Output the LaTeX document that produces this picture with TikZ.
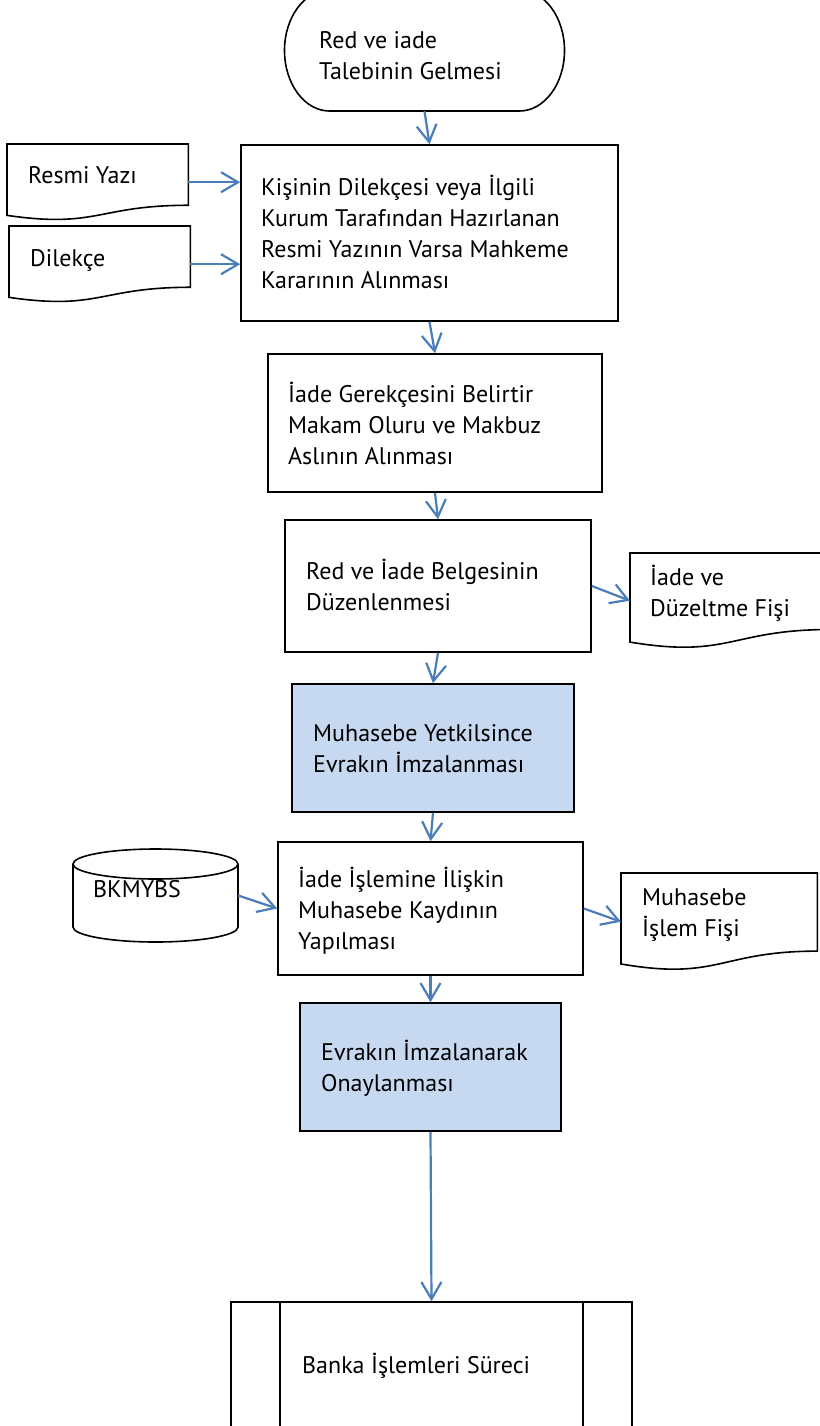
\documentclass[tikz,border=0pt]{standalone}
\usepackage{fontspec}
\setmainfont{PT Sans}
\usetikzlibrary{arrows.meta,calc}
\definecolor{lnblue}{HTML}{4A7EBB}
\definecolor{boxblue}{HTML}{C6D9F1}
\newcommand\mltext[1]{\vtop{\halign{##\hfil\cr#1\crcr}}}
\newcommand\mydoc[5]{%
  \node[ghost,minimum width=#4pt,minimum height=#5pt,anchor=north west] (#1) at (#2,#3) {};
  \draw[shp] (#1.north west) -- (#1.north east) -- ($(#1.north east)!0.802!(#1.south east)$)
    .. controls ($(#1.north)!0.802!(#1.south)$) and ($(#1.north)!1.1075!(#1.south)$)
    .. ($(#1.north west)!0.934!(#1.south west)$) -- cycle;
}
\begin{document}
\begin{tikzpicture}[x=1pt,y=-1pt,
  shp/.style={draw=black,line width=1.6pt},
  box/.style={shp,rectangle,inner sep=0pt},
  bluebox/.style={box,fill=boxblue},
  ghost/.style={rectangle,inner sep=0pt,draw=none},
  lbl/.style={anchor=base west,inner sep=0pt,font=\fontsize{24}{31}\selectfont},
  flow/.style={draw=lnblue,line width=2.2pt,-{Straight Barb[length=17pt,width=20pt]}}
]
\path[fill=white,use as bounding box] (0,0) rectangle (819,1426);

% start terminator
\node[ghost,minimum width=280pt,minimum height=121pt] (start) at (424.5,50.5) {};
\draw[shp] (329.5,-10) -- (519.5,-10)
  arc[start angle=-90,end angle=90,x radius=45,y radius=60.5] -- (329.5,111)
  arc[start angle=90,end angle=270,x radius=45,y radius=60.5] -- cycle;
\node[lbl] (tstart) at (319,49) {\mltext{Red ve iade\cr Talebinin Gelmesi}};

% process boxes
\node[box,minimum width=377pt,minimum height=176pt] (b1) at (429.5,233) {};
\node[lbl] (t1) at (261,195) {\mltext{Kişinin Dilekçesi veya İlgili\cr Kurum Tarafından Hazırlanan\cr Resmi Yazının Varsa Mahkeme\cr Kararının Alınması}};

\node[box,minimum width=334pt,minimum height=138pt] (b2) at (435,423) {};
\node[lbl] (t2) at (288,402) {\mltext{İade Gerekçesini Belirtir\cr Makam Oluru ve Makbuz\cr Aslının Alınması}};

\node[box,minimum width=306pt,minimum height=132pt] (b3) at (438,586) {};
\node[lbl] (t3) at (306,579) {\mltext{Red ve İade Belgesinin\cr Düzenlenmesi}};

\node[bluebox,minimum width=282pt,minimum height=128pt] (b4) at (433,748) {};
\node[lbl] (t4) at (313,741) {\mltext{Muhasebe Yetkilsince\cr Evrakın İmzalanması}};

\node[box,minimum width=305pt,minimum height=133pt] (b5) at (430.5,908.5) {};
\node[lbl] (t5) at (298,887) {\mltext{İade İşlemine İlişkin\cr Muhasebe Kaydının\cr Yapılması}};

\node[bluebox,minimum width=261pt,minimum height=128pt] (b6) at (430.5,1067) {};
\node[lbl] (t6) at (321,1060) {\mltext{Evrakın İmzalanarak\cr Onaylanması}};

% predefined process
\node[box,minimum width=401pt,minimum height=148pt] (banka) at (431.5,1376) {};
\draw[shp] ($(banka.north west)+(50,0)$) -- ($(banka.south west)+(50,0)$);
\draw[shp] ($(banka.north east)+(-50,0)$) -- ($(banka.south east)+(-50,0)$);
\node[lbl] (tbanka) at (302,1373) {Banka İşlemleri Süreci};

% documents
\mydoc{resmi}{7}{144}{181}{76}
\node[lbl] (tresmi) at (28,183) {Resmi Yazı};
\mydoc{dilekce}{9}{226}{181}{76}
\node[lbl] (tdilekce) at (30,266) {Dilekçe};
\mydoc{iade}{630}{553}{200}{95}
\node[lbl] (tiade) at (650,585) {\mltext{İade ve\cr Düzeltme Fişi}};
\mydoc{muh}{621}{873}{196}{97}
\node[lbl] (tmuh) at (642,905) {\mltext{Muhasebe\cr İşlem Fişi}};

% database
\node[ghost,minimum width=165pt,minimum height=93pt] (bk) at (155.5,895.5) {};
\draw[shp,fill=white] (73,864) -- (73,927)
  arc[start angle=180,end angle=0,x radius=82.5,y radius=15] -- (238,864);
\draw[shp] (155.5,864) ellipse[x radius=82.5,y radius=15];
\node[lbl] (tbk) at (93,897) {BKMYBS};

% connectors
\draw[flow] (start.south) -- (b1.north);
\draw[flow] (resmi.east) -- (resmi.east -| b1.west);
\draw[flow] (dilekce.east) -- (dilekce.east -| b1.west);
\draw[flow] (b1.south) -- (b2.north);
\draw[flow] (b2.south) -- (b3.north);
\draw[flow] (b3.east) -- (iade.west);
\draw[flow] (b3.south) -- (b4.north);
\draw[flow] (b4.south) -- (b5.north);
\draw[flow] (bk.east) -- (b5.west);
\draw[flow] (b5.east) -- (muh.west);
\draw[flow] (b5.south) -- (b6.north);
\draw[flow] (b6.south) -- (banka.north);
\end{tikzpicture}
\end{document}
